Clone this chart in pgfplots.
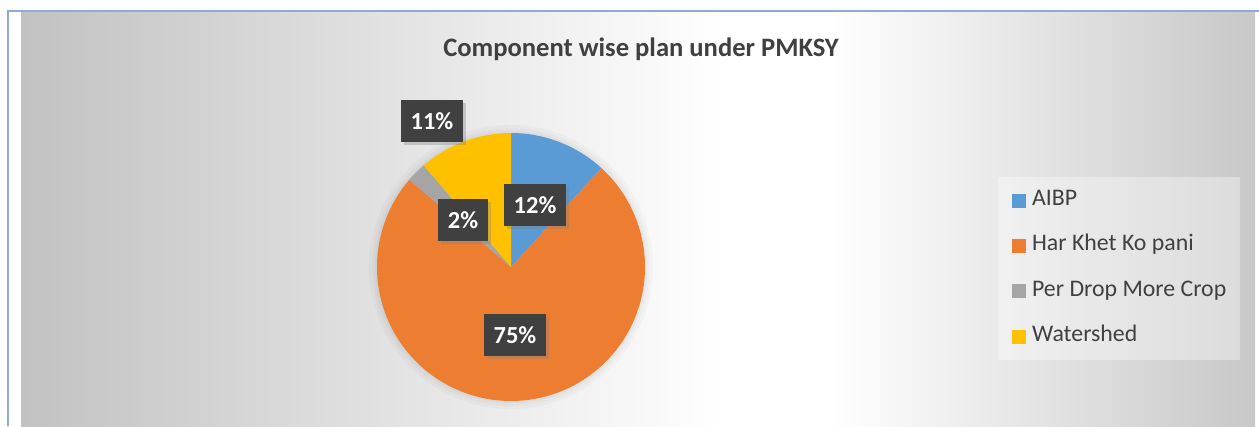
\documentclass[border=0pt]{standalone}
\usepackage{fontspec}
\setmainfont{Carlito}
\usepackage{pgfplots}
\pgfplotsset{compat=1.18}
\usetikzlibrary{shadows}

\definecolor{cA}{HTML}{5B9BD5}
\definecolor{cB}{HTML}{ED7D31}
\definecolor{cC}{HTML}{A5A5A5}
\definecolor{cD}{HTML}{FFC000}
\definecolor{txt}{HTML}{404040}
\definecolor{bgL}{HTML}{C2C2C2}
\definecolor{bgR}{HTML}{C8C8C8}
\definecolor{framec}{HTML}{8EAADB}
\definecolor{lbl}{HTML}{404040}

% shares in percent (AIBP, Har Khet Ko pani, Per Drop More Crop, Watershed)
\def\vA{11.8}
\def\vB{74.5}
\def\vC{2.4}
\def\vD{11.3}

\begin{document}
\begin{tikzpicture}
\pgfmathsetmacro\aA{90}
\pgfmathsetmacro\aB{90-3.6*\vA}
\pgfmathsetmacro\aC{\aB-3.6*\vB}
\pgfmathsetmacro\aD{\aC-3.6*\vC}
\pgfmathsetmacro\aE{\aD-3.6*\vD}
\useasboundingbox (0pt,0pt) rectangle (1259pt,426pt);
\fill[white] (0pt,0pt) rectangle (1259pt,426pt);
\shade[left color=bgL, right color=white] (21pt,0pt) rectangle (720pt,414pt);
\fill[white] (719.5pt,0pt) rectangle (830.5pt,414pt);
\shade[left color=white, right color=bgR] (830pt,0pt) rectangle (1255pt,414pt);
\draw[framec, line width=2pt] (8pt,0pt) -- (8pt,415pt) -- (1259pt,415pt);

\node[font=\bfseries\fontsize{26.6}{30}\selectfont, text=txt, anchor=base, inner sep=0pt] at (641pt,369pt) {Component wise plan under PMKSY};

\begin{axis}[
  at={(377pt,25pt)}, anchor=south west,
  scale only axis, width=268pt, height=268pt,
  xmin=-1, xmax=1, ymin=-1, ymax=1,
  hide axis, clip=false,
  legend image code/.code={\fill[#1, fill opacity=1] (0pt,-7pt) rectangle (14pt,7pt);},
  legend style={
    at={(2.317,0.836)}, anchor=north west,
    draw=none, fill=white, fill opacity=0.35, text opacity=1,
    font=\fontsize{23.8}{28}\selectfont, text=txt,
    inner xsep=14pt, inner ysep=14.5pt,
    row sep=27.3pt, column sep=6pt,
    nodes={inner sep=0pt, text height=14pt, text depth=4pt},
  },
  legend cell align=left,
]
\fill[black, opacity=0.025] (axis cs:0,0) circle[radius=1.06];
\fill[black, opacity=0.025] (axis cs:0,0) circle[radius=1.035];
\fill[black, opacity=0.025] (axis cs:0,0) circle[radius=1.015];
\addplot[draw=none, fill=cA, domain=\aB:\aA, samples=40] ({cos(x)},{sin(x)}) -- (axis cs:0,0) -- cycle;
\addlegendentry{AIBP}
\addplot[draw=none, fill=cB, domain=\aC:\aB, samples=220] ({cos(x)},{sin(x)}) -- (axis cs:0,0) -- cycle;
\addlegendentry{Har Khet Ko pani}
\addplot[draw=none, fill=cC, domain=\aD:\aC, samples=10] ({cos(x)},{sin(x)}) -- (axis cs:0,0) -- cycle;
\addlegendentry{Per Drop More Crop}
\addplot[draw=none, fill=cD, domain=\aE:\aD, samples=40] ({cos(x)},{sin(x)}) -- (axis cs:0,0) -- cycle;
\addlegendentry{Watershed}
\end{axis}

\tikzset{lab/.style={fill=lbl, text=white, font=\bfseries\fontsize{24.5}{28}\selectfont,
  minimum height=42pt, inner xsep=10pt, inner ysep=0pt,
  drop shadow={shadow xshift=3pt, shadow yshift=-3pt, opacity=0.35}}}
\node[lab] at (535pt,221pt) {12\%};
\node[lab] at (463pt,206pt) {2\%};
\node[lab] at (432pt,305pt) {11\%};
\node[lab] at (515pt,91pt) {75\%};
\end{tikzpicture}
\end{document}
